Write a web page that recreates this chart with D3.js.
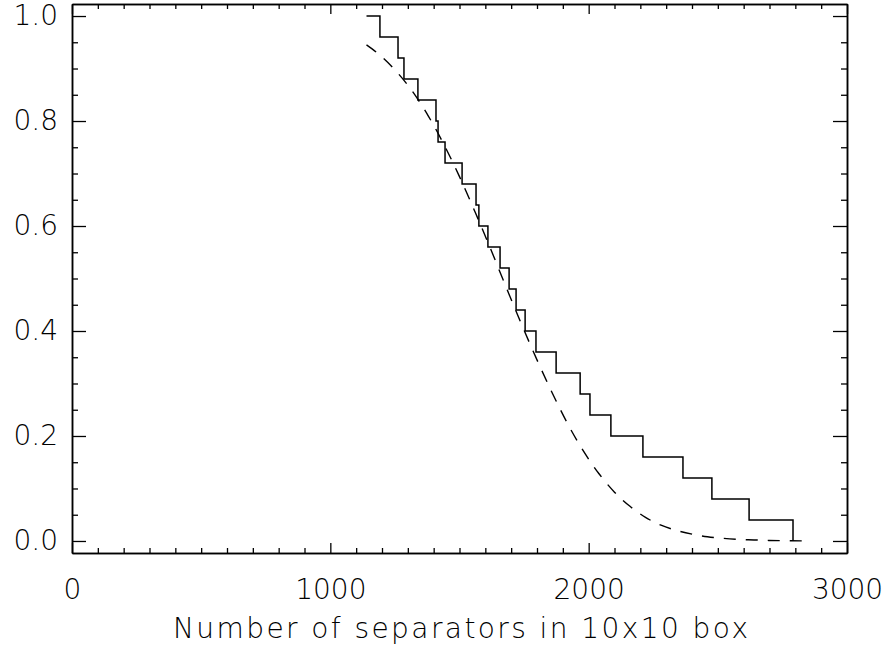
<!DOCTYPE html>
<html>
<head>
<meta charset="utf-8">
<script src="https://cdn.jsdelivr.net/npm/d3@7"></script>
<style>
  body { margin: 0; background: #fff; }
  svg text { font-family: "DejaVu Sans", sans-serif; font-weight: 200; fill: #000; }
</style>
</head>
<body>
<script>
// step function: x where the fraction drops by one sample (1/25)
const stepStart = 1140;
const stepDrops = [1192, 1262, 1285, 1339, 1409, 1417, 1444, 1510, 1564, 1575,
  1610, 1657, 1692, 1719, 1754, 1796, 1874, 1967, 2005, 2086,
  2210, 2365, 2477, 2621, 2791];

// dashed model curve
const curveX = [1140, 1200, 1260, 1320, 1380, 1440, 1500, 1560, 1620, 1680,
  1740, 1800, 1860, 1920, 1980, 2040, 2100, 2160, 2220, 2280,
  2340, 2400, 2460, 2520, 2580, 2640, 2700, 2760, 2826];
const curveY = [0.945, 0.922, 0.892, 0.855, 0.809, 0.755, 0.694, 0.627, 0.557, 0.484,
  0.413, 0.345, 0.281, 0.222, 0.171, 0.128, 0.093, 0.066, 0.045, 0.030,
  0.020, 0.013, 0.008, 0.005, 0.003, 0.002, 0.001, 0.0005, 0.0002];

const xTicks = [0, 1000, 2000, 3000];
const yTicks = [0, 0.2, 0.4, 0.6, 0.8, 1.0];
const xLabel = 'Number of separators in 10x10 box';

const width = 892, height = 650;
const mLeft = 72, mRight = 847, mTop = 4, mBottom = 553;

const x = d3.scaleLinear().domain([0, 3000]).range([mLeft, mRight]);
const y = d3.scaleLinear().domain([-0.0229, 1.0229]).range([mBottom, mTop]);

const svg = d3.select('body').append('svg')
  .attr('width', width)
  .attr('height', height)

const xMinor = d3.range(0, 3001, 100).filter(d => d % 1000 !== 0);
const yMinor = d3.range(0, 21).map(d => d * 0.05).filter((d, i) => i % 4 !== 0);

function styleAxis(g) {
  g.select('.domain').attr('stroke', '#000').attr('stroke-width', 1.5);
  g.selectAll('.tick line').attr('stroke', '#000').attr('stroke-width', 1.3);
  g.selectAll('.tick text').attr('font-size', 28).attr('font-family', null);
}

// bottom
svg.append('g')
  .attr('transform', `translate(0, ${mBottom})`)
  .call(d3.axisBottom(x).tickValues(xTicks).tickSizeInner(-10).tickSizeOuter(0).tickPadding(26).tickFormat(d3.format('d')))
  .call(styleAxis)
svg.append('g')
  .attr('transform', `translate(0, ${mBottom})`)
  .call(d3.axisBottom(x).tickValues(xMinor).tickSizeInner(-5).tickSizeOuter(0).tickFormat(''))
  .call(styleAxis)
// top
svg.append('g')
  .attr('transform', `translate(0, ${mTop})`)
  .call(d3.axisTop(x).tickValues(xTicks).tickSizeInner(-10).tickSizeOuter(0).tickFormat(''))
  .call(styleAxis)
svg.append('g')
  .attr('transform', `translate(0, ${mTop})`)
  .call(d3.axisTop(x).tickValues(xMinor).tickSizeInner(-5).tickSizeOuter(0).tickFormat(''))
  .call(styleAxis)
// left
svg.append('g')
  .attr('transform', `translate(${mLeft}, 0)`)
  .call(d3.axisLeft(y).tickValues(yTicks).tickSizeInner(-14).tickSizeOuter(0).tickPadding(14).tickFormat(d3.format('.1f')))
  .call(styleAxis)
svg.append('g')
  .attr('transform', `translate(${mLeft}, 0)`)
  .call(d3.axisLeft(y).tickValues(yMinor).tickSizeInner(-6).tickSizeOuter(0).tickFormat(''))
  .call(styleAxis)
// right
svg.append('g')
  .attr('transform', `translate(${mRight}, 0)`)
  .call(d3.axisRight(y).tickValues(yTicks).tickSizeInner(-14).tickSizeOuter(0).tickFormat(''))
  .call(styleAxis)
svg.append('g')
  .attr('transform', `translate(${mRight}, 0)`)
  .call(d3.axisRight(y).tickValues(yMinor).tickSizeInner(-6).tickSizeOuter(0).tickFormat(''))
  .call(styleAxis)

// step line
const n = stepDrops.length;
const stepPts = [[stepStart, 1]];
stepDrops.forEach((d, i) => {
  stepPts.push([d, 1 - i / n]);
  stepPts.push([d, 1 - (i + 1) / n]);
});

svg.append('path')
  .datum(stepPts)
  .attr('fill', 'none')
  .attr('stroke', '#000')
  .attr('stroke-width', 1.5)
  .attr('d', d3.line().x(d => x(d[0])).y(d => y(d[1])))

// dashed curve
svg.append('path')
  .datum(d3.zip(curveX, curveY))
  .attr('fill', 'none')
  .attr('stroke', '#000')
  .attr('stroke-width', 1.4)
  .attr('stroke-dasharray', '12,10')
  .attr('d', d3.line().curve(d3.curveMonotoneX).x(d => x(d[0])).y(d => y(d[1])))

svg.append('text')
  .attr('x', 173)
  .attr('y', 638)
  .attr('textLength', 575)
  .attr('lengthAdjust', 'spacing')
  .attr('font-size', 28)
  .text(xLabel)
</script>
</body>
</html>
